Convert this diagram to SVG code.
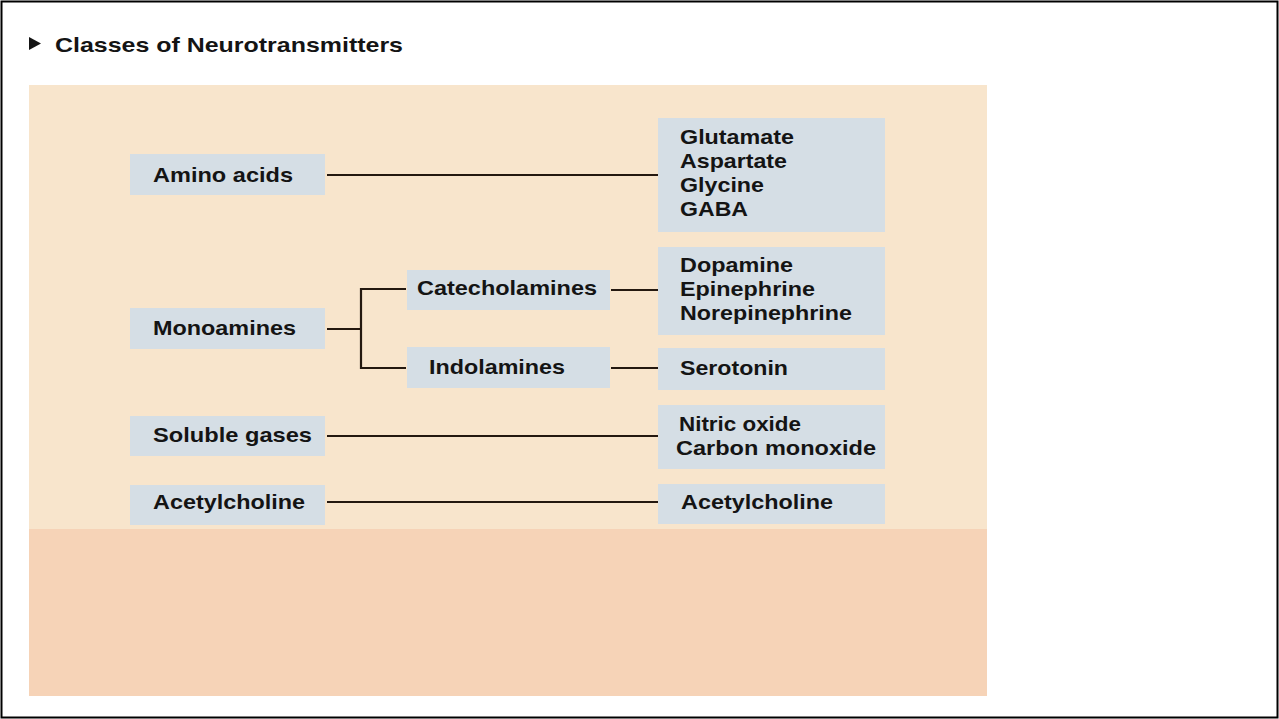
<svg xmlns="http://www.w3.org/2000/svg" width="1279" height="719" viewBox="0 0 1279 719">
<style>
.box{fill:#d5dee5}
.t{font-family:"Liberation Sans",Arial,sans-serif;font-weight:bold;font-size:21px;fill:#141414}
.ln{stroke:#24180f;stroke-width:2.2;fill:none}
</style>
<rect x="0" y="0" width="1279" height="719" fill="#ffffff"/>
<rect x="1.5" y="1.5" width="1276" height="716" fill="none" stroke="#000" stroke-width="2"/>
<polygon points="29,37 41,43.5 29,50" fill="#141414"/>
<text class="t" x="55" y="52" font-size="24" textLength="348" lengthAdjust="spacingAndGlyphs">Classes of Neurotransmitters</text>
<rect x="29" y="85" width="958" height="444" fill="#f8e5cc"/>
<rect x="29" y="529" width="958" height="167" fill="#f6d3b7"/>
<g id="connectors">
<line class="ln" x1="327" y1="175" x2="658" y2="175"/>
<polyline class="ln" points="327,329 361,329"/>
<polyline class="ln" points="406,289 361,289 361,368 406,368"/>
<line class="ln" x1="611" y1="290" x2="658" y2="290"/>
<line class="ln" x1="611" y1="368" x2="658" y2="368"/>
<line class="ln" x1="327" y1="436" x2="658" y2="436"/>
<line class="ln" x1="327" y1="502" x2="658" y2="502"/>
</g>
<g id="amino-acids"><rect class="box" x="130" y="154" width="195" height="41"/><text class="t" x="153" y="182" textLength="140" lengthAdjust="spacingAndGlyphs">Amino acids</text></g>
<g id="monoamines"><rect class="box" x="130" y="308" width="195" height="41"/><text class="t" x="153" y="335" textLength="143" lengthAdjust="spacingAndGlyphs">Monoamines</text></g>
<g id="soluble-gases"><rect class="box" x="130" y="416" width="195" height="40"/><text class="t" x="153" y="442" textLength="159" lengthAdjust="spacingAndGlyphs">Soluble gases</text></g>
<g id="acetylcholine-class"><rect class="box" x="130" y="485" width="195" height="40"/><text class="t" x="153" y="509" textLength="152" lengthAdjust="spacingAndGlyphs">Acetylcholine</text></g>
<g id="catecholamines"><rect class="box" x="407" y="270" width="203" height="40"/><text class="t" x="417" y="295" textLength="180" lengthAdjust="spacingAndGlyphs">Catecholamines</text></g>
<g id="indolamines"><rect class="box" x="407" y="347" width="203" height="41"/><text class="t" x="429" y="374" textLength="136" lengthAdjust="spacingAndGlyphs">Indolamines</text></g>
<g id="amino-list"><rect class="box" x="658" y="118" width="227" height="114"/>
<text class="t" x="680" y="144" textLength="114" lengthAdjust="spacingAndGlyphs">Glutamate</text>
<text class="t" x="680" y="168" textLength="107" lengthAdjust="spacingAndGlyphs">Aspartate</text>
<text class="t" x="680" y="192" textLength="84" lengthAdjust="spacingAndGlyphs">Glycine</text>
<text class="t" x="680" y="216" textLength="68" lengthAdjust="spacingAndGlyphs">GABA</text></g>
<g id="catecholamine-list"><rect class="box" x="658" y="247" width="227" height="88"/>
<text class="t" x="680" y="272" textLength="113" lengthAdjust="spacingAndGlyphs">Dopamine</text>
<text class="t" x="680" y="296" textLength="135" lengthAdjust="spacingAndGlyphs">Epinephrine</text>
<text class="t" x="680" y="320" textLength="172" lengthAdjust="spacingAndGlyphs">Norepinephrine</text></g>
<g id="serotonin"><rect class="box" x="658" y="348" width="227" height="42"/><text class="t" x="680" y="375" textLength="108" lengthAdjust="spacingAndGlyphs">Serotonin</text></g>
<g id="gas-list"><rect class="box" x="658" y="405" width="227" height="64"/>
<text class="t" x="679" y="431" textLength="122" lengthAdjust="spacingAndGlyphs">Nitric oxide</text>
<text class="t" x="676" y="455" textLength="200" lengthAdjust="spacingAndGlyphs">Carbon monoxide</text></g>
<g id="acetylcholine"><rect class="box" x="658" y="484" width="227" height="40"/><text class="t" x="681" y="509" textLength="152" lengthAdjust="spacingAndGlyphs">Acetylcholine</text></g>
</svg>
